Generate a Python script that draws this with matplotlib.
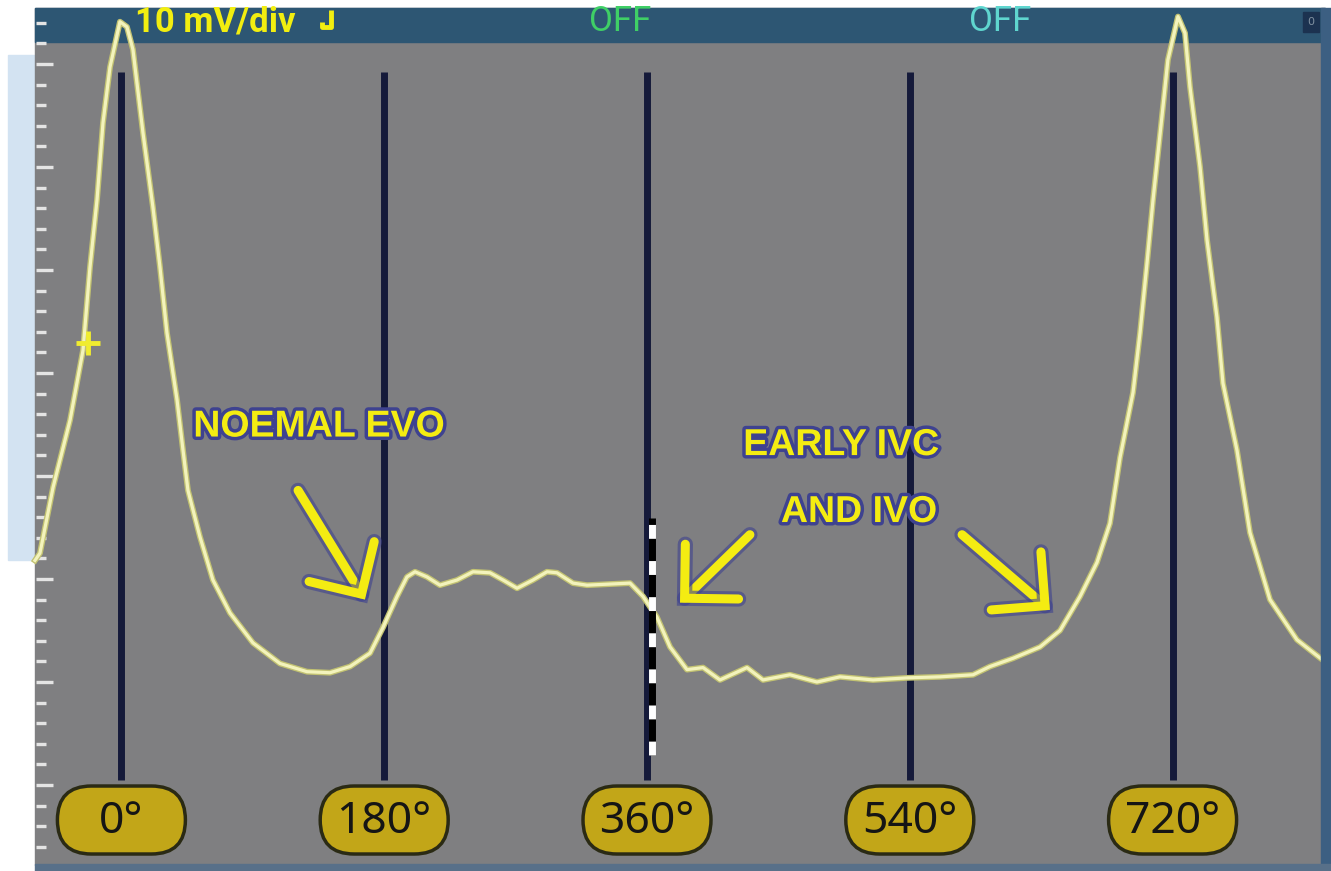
import numpy as np
import matplotlib
matplotlib.use("Agg")
import matplotlib.pyplot as plt
import matplotlib.patches as mpatches
import matplotlib.transforms as mtransforms
import matplotlib.patheffects as pe

# scope trace, crank angle (deg) vs signal (mV)
trace_deg = [-59.2, -55.8, -46.8, -35.2, -26.3, -21.5, -16.7, -12.6, -7.8, -1.0,
             3.8, 7.9, 14.8, 21.6, 26.4, 31.2, 38.1, 42.2, 45.6, 53.8,
             62.7, 74.4, 90.1, 108.6, 127.1, 142.9, 156.6, 170.3, 179.2, 188.8,
             195.6, 201.1, 209.3, 218.2, 229.9, 240.8, 252.5, 261.4, 271.0, 281.9,
             291.5, 298.4, 309.3, 318.9, 348.4, 357.3, 366.8, 375.8, 387.4, 398.4,
             410.0, 428.5, 439.5, 457.9, 476.4, 492.2, 514.8, 538.1, 560.7, 583.3,
             594.9, 610.7, 629.2, 642.9, 656.6, 668.2, 677.1, 684.0, 692.9, 697.7,
             702.5, 706.6, 712.7, 716.8, 723.7, 728.5, 731.9, 738.8, 743.6, 750.4,
             754.5, 764.1, 773.0, 786.7, 805.2, 825.8]
trace_mv = [21.8, 22.5, 28.9, 35.4, 42.2, 50.3, 56.8, 64.3, 69.7, 74.1,
            73.6, 71.4, 63.3, 56.1, 50.3, 43.9, 37.4, 32.5, 28.6, 24.1,
            19.9, 16.7, 13.8, 11.8, 11.0, 10.9, 11.5, 12.8, 15.3, 18.3,
            20.2, 20.7, 20.2, 19.4, 19.9, 20.7, 20.6, 19.9, 19.1, 19.9,
            20.7, 20.6, 19.6, 19.4, 19.6, 18.3, 16.3, 13.4, 11.2, 11.4,
            10.2, 11.4, 10.2, 10.7, 10.0, 10.5, 10.2, 10.4, 10.5, 10.7,
            11.5, 12.3, 13.4, 15.0, 18.3, 21.6, 25.4, 31.8, 38.1, 43.9,
            50.7, 56.8, 64.9, 70.4, 74.6, 73.0, 67.8, 60.0, 52.9, 45.4,
            39.0, 32.5, 24.5, 18.0, 14.1, 11.8]

marker_deg = [0, 180, 360, 540, 720]
marker_labels = ["0°", "180°", "360°", "540°", "720°"]

cursor_deg, cursor_mv = -22.9, 42.9
ivo_deg = 363.4

W, H = 1331, 871
fig = plt.figure(figsize=(W / 100, H / 100), dpi=100)
fig.patch.set_facecolor("white")
ax = fig.add_axes([0, 0, 1, 1])
ax.set_xlim(-83.15, 828.5)
ax.set_ylim(-8.35, 76.21)
ax.axis("off")

# pixel coords (origin top-left) for the screen furniture
pix = mtransforms.Affine2D().scale(1 / W, -1 / H).translate(0, 1) + fig.transFigure

ax.add_patch(mpatches.Rectangle((8, 55), 28, 505, color="#d3e3f2", transform=pix, zorder=0))
ax.add_patch(mpatches.Rectangle((35, 8), 1290, 857, color="#7f7f81", transform=pix, zorder=0))
bar = mpatches.Rectangle((35, 8), 1290, 34, color="#2d5673", transform=pix, zorder=0.5)
ax.add_patch(bar)
ax.add_patch(mpatches.Rectangle((1321, 8), 10, 860, color="#3c5f82", transform=pix, zorder=6))
ax.add_patch(mpatches.Rectangle((35, 864), 1296, 7, color="#587089", transform=pix, zorder=6))
ax.add_patch(mpatches.Rectangle((1303, 12), 16, 20, color="#1c3250", transform=pix, zorder=1))
ax.text(1311, 22, "0", transform=pix, fontsize=8, color="#8090a0", ha="center", va="center")

# status line
narrow = ["Roboto", "DejaVu Sans"]
t = ax.text(135, 31, "10 mV/div", transform=pix, fontsize=25, fontweight="bold",
            family=narrow, color="#f2ee10", va="baseline", zorder=2)
t.set_clip_path(bar)
ax.plot([331, 331, 322, 322], [10, 27, 27, 22], transform=pix, color="#f2ee10",
        lw=3.5, solid_capstyle="butt", zorder=2)
for xc, txt, col in [(620, "OFF", "#3fcf66"), (1000, "OFF", "#5fd6cf")]:
    t = ax.text(xc, 31, txt, transform=pix, fontsize=25, family=narrow,
                color=col, ha="center", va="baseline", zorder=2)
    t.set_clip_path(bar)

# left graticule ticks
ytr = ax.get_yaxis_transform()
for v in np.arange(-8, 75, 2):
    x1 = 53 / W if v % 10 == 0 else 46 / W
    ax.plot([36 / W, x1], [v, v], transform=ytr, color="#e4e4e4", lw=2.4,
            solid_capstyle="butt", zorder=2)

# crank angle markers
for d in marker_deg:
    ax.plot([d, d], [0.5, 69.2], color="#151a3a", lw=5, solid_capstyle="butt", zorder=2)

for d, lab in zip(marker_deg, marker_labels):
    tr = mtransforms.Affine2D() + mtransforms.ScaledTranslation(d, -3.4, ax.transData)
    ax.add_patch(mpatches.FancyBboxPatch((-64, -34), 128, 68,
                                         boxstyle="round,pad=0,rounding_size=34",
                                         fc="#c2a618", ec="#2a2a14", lw=2.5,
                                         transform=tr, zorder=4))
    ax.text(d, -3.6, lab, fontsize=32, family="Noto Sans", fontweight="medium",
            color="#151515", ha="center", va="center", zorder=5)

# trace
ax.plot(trace_deg, trace_mv, color="#f3f3bc", lw=2.3, zorder=3,
        path_effects=[pe.Stroke(linewidth=4.2, foreground="#c2c272"), pe.Normal()])
ax.plot([cursor_deg], [cursor_mv], marker="+", ms=17, mew=3.5, color="#f0ec30", zorder=4)

# early IVC/IVO marker
ax.plot([ivo_deg, ivo_deg], [2.9, 25.9], color="black", lw=5, solid_capstyle="butt", zorder=4)
ax.plot([ivo_deg, ivo_deg], [2.9, 25.9], color="white", lw=5, dashes=(2.0, 3.2),
        solid_capstyle="butt", zorder=4.5)

# annotations
glow = [pe.withStroke(linewidth=5, foreground="#3e4290")]
yellow = "#f4ec12"
font = ["Liberation Sans", "DejaVu Sans"]
ax.text(135.3, 34.8, "NOEMAL EVO", fontsize=27, fontweight="bold", family=font,
        color=yellow, ha="center", va="center", path_effects=glow, zorder=5)
ax.text(492.9, 33.0, "EARLY IVC", fontsize=27, fontweight="bold", family=font,
        color=yellow, ha="center", va="center", path_effects=glow, zorder=5)
ax.text(505.2, 26.5, "AND IVO", fontsize=27, fontweight="bold", family=font,
        color=yellow, ha="center", va="center", path_effects=glow, zorder=5)

arrows = [((121.0, 28.6), (166.8, 18.0)),
          ((430.5, 24.3), (382.6, 17.7)),
          ((575.8, 24.3), (636.0, 17.0))]
for tail, tip in arrows:
    ax.add_patch(mpatches.FancyArrowPatch(
        tail, tip, arrowstyle="->,head_length=0.55,head_width=0.55",
        mutation_scale=50, lw=6.5, color=yellow, capstyle="round", joinstyle="miter",
        shrinkA=0, shrinkB=0, zorder=5,
        path_effects=[pe.Stroke(linewidth=11, foreground="#3e4290", alpha=0.6), pe.Normal()]))

fig.savefig("out.png", dpi=100)
